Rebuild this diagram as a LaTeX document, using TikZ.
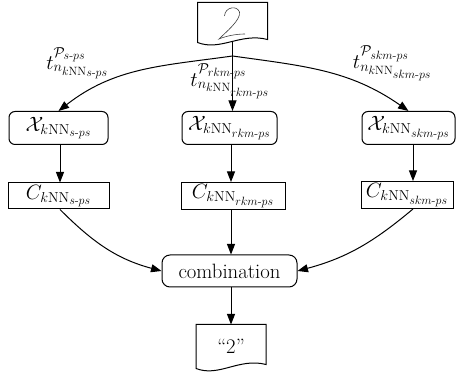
\documentclass[tikz,border=0pt]{standalone}
\usepackage{amsmath}
\usetikzlibrary{arrows.meta,calc}
\begin{document}
\begin{tikzpicture}[x=1pt,y=1pt, line width=1pt, >={Triangle[length=10.5pt,width=8pt]}, font=\huge,
  rbox/.style={draw, rounded corners=6pt, minimum height=33pt, inner sep=2pt},
  sbox/.style={draw, minimum height=26pt, inner sep=2pt},
  lbl/.style={inner sep=0pt},
  docframe/.style={minimum width=69pt, inner sep=0pt},
  hand/.style={line width=0.6pt, black!75}]
\useasboundingbox (0,0) rectangle (456,377);

% input document
\node[docframe, minimum height=39pt] (in) at (232.5,354.5) {};
\draw (in.north west) -- (in.north east) -- ($(in.south east)+(0,3)$)
  .. controls ($(in.south)+(8,10)$) and ($(in.south)+(-12,-9)$) .. (in.south west) -- cycle;
\draw[hand] (224.5,361) .. controls (225,370) and (237,372) .. (239.5,365)
  .. controls (241,357) and (226,345) .. (219,338)
  .. controls (226,341) and (236,343) .. (245,343);

% boxes
\node[rbox, minimum width=99pt] (x1) at (58.5,249) {$\mathcal{X}_{k\mathrm{NN}_{s\text{-}ps}}$};
\node[rbox, minimum width=95pt] (x2) at (229.5,249) {$\mathcal{X}_{k\mathrm{NN}_{rkm\text{-}ps}}$};
\node[rbox, minimum width=93pt] (x3) at (408.5,249) {$\mathcal{X}_{k\mathrm{NN}_{skm\text{-}ps}}$};
\node[sbox, minimum width=101pt] (c1) at (58.5,181) {$C_{k\mathrm{NN}_{s\text{-}ps}}$};
\node[sbox, minimum width=104pt] (c2) at (233,181) {$C_{k\mathrm{NN}_{rkm\text{-}ps}}$};
\node[sbox, minimum width=92pt] (c3) at (407,182) {$C_{k\mathrm{NN}_{skm\text{-}ps}}$};
\node[draw, rounded corners=8pt, minimum width=135pt, minimum height=32pt, inner sep=2pt] (comb) at (229.5,106) {combination};

% output document
\node[docframe, minimum height=43pt] (out) at (231,30.5) {``2''};
\draw (out.north west) -- (out.north east) -- ($(out.south east)+(0,4)$)
  .. controls ($(out.south)+(8,11)$) and ($(out.south)+(-12,-9)$) .. (out.south west) -- cycle;

% labels
\node[lbl] (l1) at (77.5,313.5) {$t^{\mathcal{P}_{s\text{-}ps}}_{n_{k\mathrm{NN}_{s\text{-}ps}}}$};
\node[lbl] (l2) at (230,296) {$t^{\mathcal{P}_{rkm\text{-}ps}}_{n_{k\mathrm{NN}_{rkm\text{-}ps}}}$};
\node[lbl] (l3) at (392.5,313.5) {$t^{\mathcal{P}_{skm\text{-}ps}}_{n_{k\mathrm{NN}_{skm\text{-}ps}}}$};

% connectors
\coordinate (split) at (232.5,321);
\coordinate (a1) at (60,0);
\coordinate (a2) at (231,0);
\coordinate (a3) at (413,0);
\draw[->] ($(in.south)+(0,1)$) -- (in.south |- x2.north);
\draw[->] (split) to[out=188,in=38] (x1.north);
\draw[->] (split) to[out=-8,in=145] (x3.north);
\draw[->] (x1.south -| a1) -- (c1.north -| a1);
\draw[->] (x2.south -| a2) -- (c2.north -| a2);
\draw[->] (x3.south -| a3) -- (c3.north -| a3);
\draw[->] (c1.south -| a1) to[out=-45,in=165] (comb.west);
\draw[->] (c2.south -| a2) -- (comb.north -| a2);
\draw[->] (c3.south -| a3) to[out=-140,in=15] (comb.east);
\draw[->] (comb.south -| a2) -- (out.north -| a2);
\end{tikzpicture}
\end{document}
